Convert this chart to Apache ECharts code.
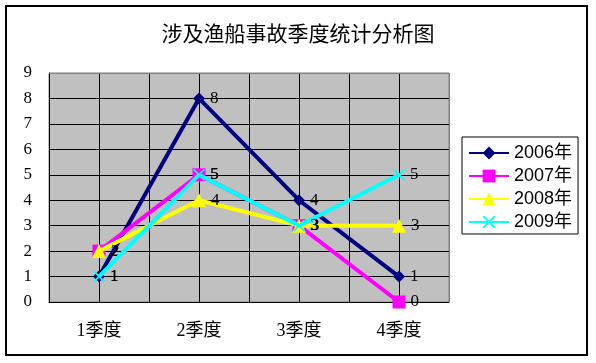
<!DOCTYPE html>
<html>
<head>
<meta charset="utf-8">
<script src="https://cdn.jsdelivr.net/npm/echarts@6/dist/echarts.min.js"></script>
<style>html,body{margin:0;padding:0;background:#fff;}#c{width:596px;height:363px;}</style>
</head>
<body>
<div id="c"></div>
<script>
const title = '涉及渔船事故季度统计分析图';
const categories = ['1季度', '2季度', '3季度', '4季度'];
const seriesNames = ['2006年', '2007年', '2008年', '2009年'];
const s2006 = [1, 8, 4, 1];
const s2007 = [2, 5, 3, 0];
const s2008 = [2, 4, 3, 3];
const s2009 = [1, 5, 3, 5];
const yTicks = [0, 9, 1]; // min, max, interval

const serif = "'Liberation Serif','Times New Roman','Noto Sans CJK SC',serif";
const colors = ['#000080', '#ff00ff', '#ffff00', '#00ffff'];
const symbols = ['diamond', 'rect', 'triangle', 'path://M0,1L1,0L5,4L9,0L10,1L6,5L10,9L9,10L5,6L1,10L0,9L4,5Z'];
const sizes = [12, 13, 14, 12];
const data = [s2006, s2007, s2008, s2009];

const chart = echarts.init(document.getElementById('c'), null, {renderer: 'canvas'});
chart.setOption({
  animation: false,
  backgroundColor: '#ffffff',
  title: {
    text: title, left: 'center', top: 18,
    textStyle: {fontFamily: "'Noto Sans CJK SC',sans-serif", fontSize: 21, fontWeight: 'normal', color: '#000'}
  },
  graphic: [{
    type: 'rect', shape: {x: 6, y: 6, width: 581, height: 349},
    style: {fill: 'none', stroke: '#000', lineWidth: 2}, silent: true, z: 100
  }, {
    type: 'line', shape: {x1: 49, y1: 73.5, x2: 449, y2: 73.5},
    style: {stroke: '#808080', lineWidth: 1}, silent: true, z: 50
  }, {
    type: 'line', shape: {x1: 449.5, y1: 73, x2: 449.5, y2: 302},
    style: {stroke: '#808080', lineWidth: 1}, silent: true, z: 50
  }],
  grid: {left: 49, top: 73, right: 147, bottom: 61, show: true, backgroundColor: '#c0c0c0', borderColor: '#808080', borderWidth: 1},
  legend: {
    data: seriesNames, orient: 'vertical', left: 462, top: 137,
    width: 121, itemWidth: 40, itemHeight: 16, itemGap: 5,
    padding: [7, 6, 3, 6], borderColor: '#000', borderWidth: 1, backgroundColor: '#fff',
    textStyle: {fontFamily: "'Liberation Sans',Arial,'Noto Sans CJK SC',sans-serif", fontSize: 18, color: '#000'}
  },
  xAxis: [{
    type: 'category', data: categories, boundaryGap: true,
    axisLine: {show: true, lineStyle: {color: '#000', width: 1}},
    axisTick: {show: false},
    axisLabel: {fontFamily: serif, fontSize: 18, color: '#000', margin: 20},
    splitLine: {show: false}
  }, {
    type: 'value', min: 0, max: 8, interval: 1, position: 'bottom',
    axisLine: {show: false}, axisTick: {show: false}, axisLabel: {show: false},
    splitLine: {show: true, lineStyle: {color: '#000', width: 1}}
  }],
  yAxis: {
    type: 'value', min: yTicks[0], max: yTicks[1], interval: yTicks[2],
    axisLine: {show: true, lineStyle: {color: '#000', width: 1}},
    axisTick: {show: false},
    axisLabel: {fontFamily: serif, fontSize: 17, color: '#000', margin: 17},
    splitLine: {show: true, lineStyle: {color: '#000', width: 1}}
  },
  series: seriesNames.map((name, i) => ({
    name: name, type: 'line', data: data[i], xAxisIndex: 0,
    symbol: symbols[i], symbolSize: sizes[i], showAllSymbol: true,
    lineStyle: {color: colors[i], width: 4},
    itemStyle: {color: colors[i], opacity: 1},
    label: {show: true, position: 'right', distance: 5, fontFamily: serif, fontSize: 17, color: '#000'},
    emphasis: {disabled: true},
    z: 2 + i
  }))
});
</script>
</body>
</html>
